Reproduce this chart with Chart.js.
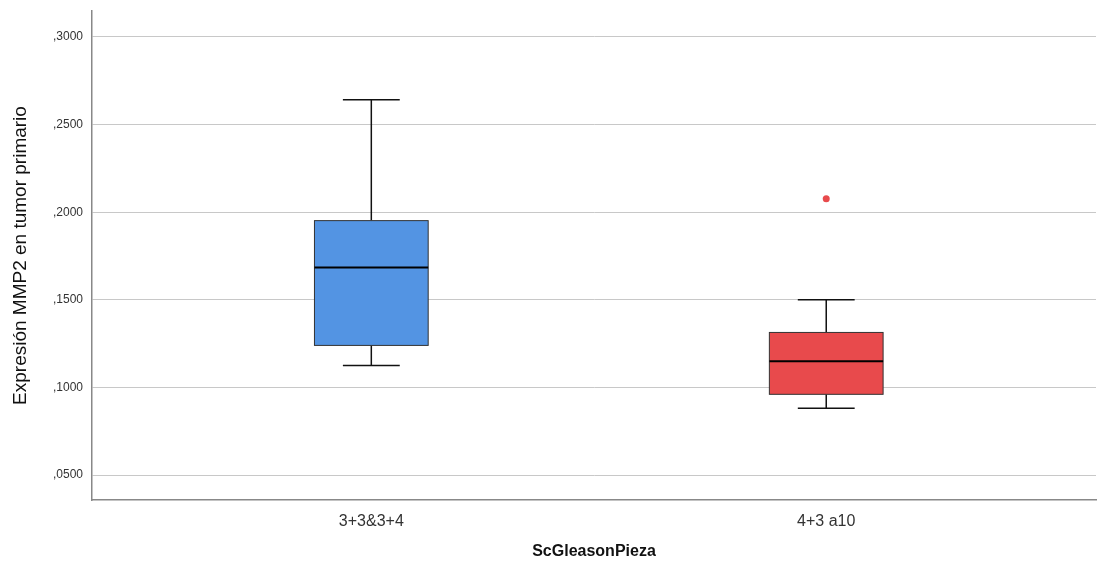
<!DOCTYPE html>
<html>
<head>
<meta charset="utf-8">
<script src="https://cdn.jsdelivr.net/npm/chart.js@4/dist/chart.umd.min.js"></script>
<style>
  body { margin: 0; background: #fff; }
  canvas { display: block; }
</style>
</head>
<body>
<canvas id="boxChart" width="1100" height="565"></canvas>
<script>
// Categories and box statistics
const groups = ['3+3&3+4', '4+3 a10'];
const whiskerLow = [0.1126, 0.0882];
const q1 = [0.1240, 0.0961];
const medians = [0.1685, 0.1149];
const q3 = [0.1952, 0.1314];
const whiskerHigh = [0.2641, 0.1500];
const boxColors = ['#5394e3', '#e84a4c'];
const outliers = [{ x: 2, y: 0.2077 }];
const yTicks = [0.05, 0.10, 0.15, 0.20, 0.25, 0.30];

// Draw boxes and whiskers through the chart's scales
const boxPlotPlugin = {
    id: 'boxPlot',
    beforeDatasetsDraw(chart) {
        const ctx = chart.ctx;
        const xs = chart.scales.x;
        const ys = chart.scales.y;
        groups.forEach((g, i) => {
            const cx = xs.getPixelForValue(i + 1);
            const half = xs.getPixelForValue(i + 1 + 0.125) - cx;
            const cap = xs.getPixelForValue(i + 1 + 0.0625) - cx;
            const yLo = ys.getPixelForValue(whiskerLow[i]);
            const yQ1 = ys.getPixelForValue(q1[i]);
            const yMed = ys.getPixelForValue(medians[i]);
            const yQ3 = ys.getPixelForValue(q3[i]);
            const yHi = ys.getPixelForValue(whiskerHigh[i]);
            ctx.save();
            ctx.strokeStyle = '#111';
            ctx.lineWidth = 1.5;
            ctx.beginPath();
            ctx.moveTo(cx, yHi); ctx.lineTo(cx, yQ3);
            ctx.moveTo(cx, yQ1); ctx.lineTo(cx, yLo);
            ctx.moveTo(cx - cap, yHi); ctx.lineTo(cx + cap, yHi);
            ctx.moveTo(cx - cap, yLo); ctx.lineTo(cx + cap, yLo);
            ctx.stroke();
            ctx.fillStyle = boxColors[i];
            ctx.fillRect(cx - half, yQ3, half * 2, yQ1 - yQ3);
            ctx.strokeStyle = '#333';
            ctx.lineWidth = 1;
            ctx.strokeRect(cx - half, yQ3, half * 2, yQ1 - yQ3);
            ctx.strokeStyle = '#000';
            ctx.lineWidth = 2;
            ctx.beginPath();
            ctx.moveTo(cx - half, yMed); ctx.lineTo(cx + half, yMed);
            ctx.stroke();
            ctx.restore();
        });
    }
};

new Chart(document.getElementById('boxChart').getContext('2d'), {
    type: 'scatter',
    data: {
        datasets: [{
            label: 'Outliers',
            data: outliers,
            backgroundColor: '#e84a4c',
            borderWidth: 0,
            pointRadius: 3.5,
        }]
    },
    options: {
        responsive: false,
        animation: false,
        layout: { padding: { top: 11, right: 3, left: 0, bottom: 0 } },
        plugins: {
            legend: { display: false },
            tooltip: { enabled: false },
        },
        scales: {
            x: {
                type: 'linear',
                min: 0.386,
                max: 2.593,
                afterBuildTicks: axis => { axis.ticks = [{ value: 1 }, { value: 2 }]; },
                afterFit: scale => { scale.height = 65; scale.paddingLeft = 0; scale.paddingRight = 0; },
                grid: { display: false },
                border: { display: true, color: '#888', width: 1.5 },
                ticks: {
                    color: '#333',
                    padding: 4,
                    font: { family: 'Liberation Sans', size: 16 },
                    callback: v => groups[v - 1],
                },
                title: {
                    display: true,
                    text: 'ScGleasonPieza',
                    color: '#111',
                    font: { family: 'Liberation Sans', size: 16, weight: 'bold' },
                    padding: { top: 14 },
                },
            },
            y: {
                min: 0.0358,
                max: 0.3148,
                afterBuildTicks: axis => { axis.ticks = yTicks.map(v => ({ value: v })); },
                afterFit: scale => { scale.width = 92; scale.paddingTop = 0; scale.paddingBottom = 0; },
                grid: { color: '#c8c8c8', lineWidth: 1, drawTicks: false },
                border: { display: true, color: '#888', width: 1.5 },
                ticks: {
                    color: '#333',
                    padding: 9,
                    font: { family: 'Liberation Sans', size: 12 },
                    callback: v => ',' + v.toFixed(4).split('.')[1],
                },
                title: {
                    display: true,
                    text: 'Expresión MMP2 en tumor primario',
                    color: '#111',
                    font: { family: 'Liberation Sans', size: 19 },
                    padding: { top: 9, bottom: 0 },
                },
            },
        },
    },
    plugins: [boxPlotPlugin],
});
</script>
</body>
</html>
